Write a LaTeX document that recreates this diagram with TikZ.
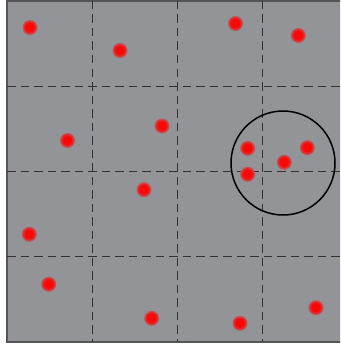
\documentclass[tikz,border=0pt]{standalone}
\begin{document}
\begin{tikzpicture}[x=1pt,y=-1pt,
  panel/.style={fill=panelgray,draw=bordergray,line width=1.2pt},
  gridline/.style={draw=gridgray,line width=1.4pt,dash pattern=on 8.5pt off 5pt},
  glow/.style={fill=red!45!panelgray},
  core/.style={fill=dotred},
  ring/.style={draw=black,line width=1.5pt}]
\definecolor{panelgray}{RGB}{147,148,152}
\definecolor{bordergray}{RGB}{85,85,88}
\definecolor{gridgray}{RGB}{50,50,53}
\definecolor{dotred}{RGB}{250,8,8}
\useasboundingbox (0,0) rectangle (340,345);
\clip (0,0) rectangle (340,345);
\draw[panel] (7,1) rectangle (348,342);
\foreach \g in {92.25,177.5,262.75}{
  \draw[gridline] (\g,1) -- (\g,342);
  \draw[gridline] (7,\g-6) -- (348,\g-6);
}
\foreach \px/\py in {30/27.5,120/50.5,67.5/140.5,162/126,235.5/23.5,298.3/35.5,
  247.7/148.3,284.3/162.3,307.3/147.7,247.7/174.3,144/189.7,29.3/234.3,
  48.7/284.3,151.7/318.3,240/323.3,316/307.7}{
  \fill[glow] (\px,\py) circle[radius=7.5];
  \fill[red!75!panelgray] (\px,\py) circle[radius=6.2];
  \fill[core] (\px,\py) circle[radius=4.8];
}
\draw[ring] (283,163) circle[radius=52];
\end{tikzpicture}
\end{document}
